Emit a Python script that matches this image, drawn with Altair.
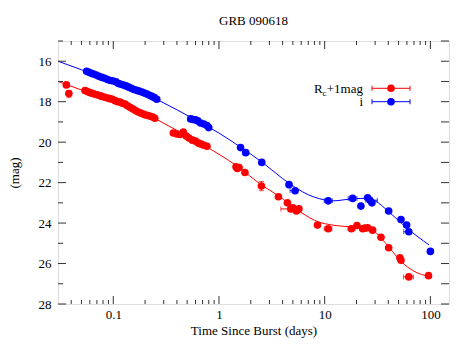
import altair as alt
import pandas as pd

FONT = "Liberation Serif"
RED = "#ff0000"
BLUE = "#0000ff"

# ---------------- data ----------------
# i band points
i_t = [0.056, 0.059, 0.062, 0.065, 0.069, 0.073, 0.078, 0.083, 0.088, 0.094, 0.100, 0.106,
       0.112, 0.118, 0.125, 0.132, 0.140, 0.148, 0.157, 0.166, 0.176, 0.186, 0.197, 0.208,
       0.220, 0.232, 0.245, 0.258,
       0.54, 0.57, 0.60, 0.63, 0.67, 0.72, 0.77, 0.80,
       1.6, 1.79, 2.54, 4.6, 5.25, 10.8, 18.4, 22.0, 25.5, 26.8, 28.0, 40.3, 52.7, 59.6, 62.5, 100.0]
i_mag = [16.50, 16.55, 16.60, 16.63, 16.68, 16.74, 16.80, 16.84, 16.90, 16.95, 16.98, 17.02,
         17.10, 17.14, 17.18, 17.22, 17.28, 17.34, 17.40, 17.44, 17.48, 17.52, 17.57, 17.62,
         17.68, 17.74, 17.80, 17.88,
         18.85, 18.88, 18.90, 18.95, 19.05, 19.10, 19.18, 19.28,
         20.27, 20.52, 21.0, 22.1, 22.4, 22.9, 22.78, 23.16, 22.75, 22.87, 23.0, 23.4, 23.82, 24.1, 24.43, 25.4]

# Rc+1 points
r_t = [0.036, 0.038,
       0.054, 0.057, 0.060, 0.063, 0.066, 0.070, 0.074, 0.078, 0.083, 0.088, 0.093, 0.098,
       0.104, 0.110, 0.116, 0.122, 0.129, 0.136, 0.144, 0.152, 0.161, 0.170, 0.180, 0.190,
       0.200, 0.212, 0.224, 0.236, 0.247,
       0.37, 0.40, 0.43, 0.46, 0.49, 0.52, 0.56, 0.60, 0.64, 0.68, 0.72, 0.77,
       1.45, 1.49, 1.55, 1.76, 2.52, 3.65, 4.44, 4.78, 5.0, 5.4, 5.7, 8.55, 10.8,
       17.9, 20.2, 22.9, 24.0, 25.5, 28.4, 34.1, 40.3, 51.5, 52.7, 62.5, 96.0]
r_mag = [17.17, 17.6,
         17.45, 17.50, 17.55, 17.58, 17.62, 17.66, 17.70, 17.74, 17.78, 17.82, 17.85, 17.88,
         17.95, 18.00, 18.02, 18.08, 18.12, 18.20, 18.28, 18.35, 18.42, 18.50, 18.55, 18.60,
         18.65, 18.68, 18.72, 18.76, 18.82,
         19.55, 19.60, 19.62, 19.50, 19.70, 19.80, 19.90, 19.95, 20.05, 20.10, 20.15, 20.20,
         21.22, 21.30, 21.25, 21.50, 22.17, 22.70, 23.00, 23.30, 23.25, 23.40, 23.30, 24.10, 24.28,
         24.28, 24.12, 24.28, 24.25, 24.23, 24.35, 24.70, 25.22, 25.72, 25.84, 26.66, 26.60]

# horizontal (time) error bars: t, mag, low, high
i_xe_t = [5.25, 10.8, 18.4, 26.8, 62.5]
i_xe_mag = [22.4, 22.9, 22.78, 22.87, 24.43]
i_xe_lo = [4.7, 9.9, 16.7, 24.5, 56.0]
i_xe_hi = [5.5, 11.8, 20.2, 31.5, 66.0]

r_xe_t = [4.78, 10.8, 17.9, 24.0, 62.5]
r_xe_mag = [23.3, 24.28, 24.28, 24.25, 26.66]
r_xe_lo = [3.85, 9.9, 16.7, 21.5, 55.6]
r_xe_hi = [5.0, 11.7, 19.4, 26.4, 69.0]

# vertical (magnitude) error bars
r_ye_t = [0.038, 2.52]
r_ye_lo = [17.45, 21.95]
r_ye_hi = [17.78, 22.40]

# model curves
i_curve_t = [0.03, 0.05, 0.1, 0.2, 0.4, 0.7, 1.0, 1.6, 2.5, 4.0, 5.5, 7.0, 9.0, 12.0,
             17.0, 22.0, 26.0, 30.0, 40.0, 60.0, 97.0]
i_curve_mag = [16.0, 16.42, 17.0, 17.62, 18.4, 19.1, 19.55, 20.25, 20.95, 21.8, 22.3, 22.6,
               22.8, 22.9, 22.82, 22.78, 22.78, 22.9, 23.42, 24.25, 25.08]
r_curve_t = [0.03, 0.05, 0.1, 0.2, 0.4, 0.7, 1.0, 1.5, 2.5, 3.65, 5.7, 8.9, 11.0, 17.0,
             21.0, 25.0, 28.0, 34.0, 41.0, 53.0, 70.0, 97.0]
r_curve_mag = [17.0, 17.42, 18.0, 18.6, 19.42, 20.12, 20.6, 21.2, 22.1, 22.65, 23.4, 23.96,
               24.07, 24.18, 24.2, 24.22, 24.3, 24.73, 25.22, 25.9, 26.38, 26.64]

# axis ticks
x_major = [0.1, 1, 10, 100]
x_minor = [0.04, 0.05, 0.06, 0.07, 0.08, 0.09,
           0.2, 0.3, 0.4, 0.5, 0.6, 0.7, 0.8, 0.9,
           2, 3, 4, 5, 6, 7, 8, 9,
           20, 30, 40, 50, 60, 70, 80, 90]
y_major = [16, 18, 20, 22, 24, 26, 28]
y_minor = [15, 17, 19, 21, 23, 25, 27]

# ---------------- chart ----------------
W, H = 391, 263
xs = alt.Scale(type="log", domain=[0.03, 150], nice=False)
ys = alt.Scale(domain=[15, 28], reverse=True, nice=False, zero=False)

xaxis = alt.Axis(values=x_major, format="~g", ticks=False, domain=False, grid=False,
                 labelFont=FONT, labelFontSize=13, labelColor="black", labelPadding=4,
                 titleFont=FONT, titleFontSize=13, titleFontWeight="normal", titleColor="black",
                 titlePadding=3, labelFlush=False)
yaxis = alt.Axis(values=y_major, ticks=False, domain=False, grid=False,
                 labelFont=FONT, labelFontSize=13, labelColor="black", labelPadding=7,
                 titleFont=FONT, titleFontSize=13, titleFontWeight="normal", titleColor="black",
                 titlePadding=17, labelFlush=False)

X = lambda f="t": alt.X(f, type="quantitative", scale=xs, axis=xaxis, title="Time Since Burst (days)")
Y = lambda f="mag": alt.Y(f, type="quantitative", scale=ys, axis=yaxis, title="(mag)")

i_pts = pd.DataFrame({"t": i_t, "mag": i_mag})
r_pts = pd.DataFrame({"t": r_t, "mag": r_mag})
i_xe = pd.DataFrame({"t": i_xe_lo, "t2": i_xe_hi, "mag": i_xe_mag})
r_xe = pd.DataFrame({"t": r_xe_lo, "t2": r_xe_hi, "mag": r_xe_mag})
r_ye = pd.DataFrame({"t": r_ye_t, "mag": r_ye_lo, "mag2": r_ye_hi})
i_cur = pd.DataFrame({"t": i_curve_t, "mag": i_curve_mag})
r_cur = pd.DataFrame({"t": r_curve_t, "mag": r_curve_mag})

layers = []

# curves
for df, col in [(r_cur, RED), (i_cur, BLUE)]:
    layers.append(alt.Chart(df).mark_line(color=col, strokeWidth=1, interpolate="monotone")
                  .encode(x=X(), y=Y()))

# horizontal error bars with caps
for df, col in [(r_xe, RED), (i_xe, BLUE)]:
    layers.append(alt.Chart(df).mark_rule(color=col, strokeWidth=1)
                  .encode(x=X(), x2="t2", y=Y()))
    for f in ["t", "t2"]:
        layers.append(alt.Chart(df).mark_tick(color=col, orient="vertical", size=5, thickness=1)
                      .encode(x=X(f), y=Y()))

# vertical error bars with caps
layers.append(alt.Chart(r_ye).mark_rule(color=RED, strokeWidth=1)
              .encode(x=X(), y=Y(), y2="mag2"))
for f in ["mag", "mag2"]:
    layers.append(alt.Chart(r_ye).mark_tick(color=RED, orient="horizontal", size=5, thickness=1)
                  .encode(x=X(), y=Y(f)))

# points
for df, col in [(r_pts, RED), (i_pts, BLUE)]:
    layers.append(alt.Chart(df).mark_circle(color=col, size=58, opacity=1)
                  .encode(x=X(), y=Y()))

# inward ticks (mirrored on all four sides)
xmaj = pd.DataFrame({"t": x_major})
xmin = pd.DataFrame({"t": x_minor})
ymaj = pd.DataFrame({"mag": y_major})
ymin = pd.DataFrame({"mag": y_minor})
TC = "#333333"
layers += [
    alt.Chart(xmaj).mark_rule(color=TC).encode(x=X(), y=alt.value(H), y2=alt.value(H - 8)),
    alt.Chart(xmin).mark_rule(color=TC).encode(x=X(), y=alt.value(H), y2=alt.value(H - 4)),
    alt.Chart(xmaj).mark_rule(color=TC).encode(x=X(), y=alt.value(0), y2=alt.value(8)),
    alt.Chart(xmin).mark_rule(color=TC).encode(x=X(), y=alt.value(0), y2=alt.value(4)),
    alt.Chart(ymaj).mark_rule(color=TC).encode(y=Y(), x=alt.value(0), x2=alt.value(8)),
    alt.Chart(ymin).mark_rule(color=TC).encode(y=Y(), x=alt.value(0), x2=alt.value(5)),
    alt.Chart(ymaj).mark_rule(color=TC).encode(y=Y(), x=alt.value(W), x2=alt.value(W - 8)),
    alt.Chart(ymin).mark_rule(color=TC).encode(y=Y(), x=alt.value(W), x2=alt.value(W - 8)),
]

# legend (drawn by hand to allow the subscript)
one = pd.DataFrame({"k": [0]})
def txt(s, x, y, size=13, align="left"):
    return alt.Chart(one).mark_text(font=FONT, fontSize=size, align=align, baseline="alphabetic",
                                    color="black").encode(x=alt.value(x), y=alt.value(y), text=alt.value(s))

def leg_entry(col, y):
    out = [alt.Chart(one).mark_rule(color=col, strokeWidth=1)
           .encode(x=alt.value(314), x2=alt.value(352), y=alt.value(y))]
    for xx in (314, 352):
        out.append(alt.Chart(one).mark_rule(color=col, strokeWidth=1)
                   .encode(x=alt.value(xx), y=alt.value(y - 2.5), y2=alt.value(y + 2.5)))
    out.append(alt.Chart(one).mark_circle(color=col, size=58, opacity=1)
               .encode(x=alt.value(333), y=alt.value(y)))
    return out

layers += [txt("R", 256, 51.5), txt("c", 264.5, 55, size=9), txt("+1mag", 305, 51.5, align="right"),
           txt("i", 305, 65, align="right")]
layers += leg_entry(RED, 47.3)
layers += leg_entry(BLUE, 60.7)

chart = alt.layer(*layers).properties(
    width=W, height=H,
    title=alt.TitleParams("GRB 090618", font=FONT, fontSize=13, fontWeight="normal",
                          color="black", offset=13, anchor="middle"),
    autosize=alt.AutoSizeParams(type="none"),
    padding={"left": 50, "top": 33, "right": 14, "bottom": 34},
).configure_view(stroke="#333333", strokeWidth=1).configure(background="white")

chart.save("out.html", embed_options={"renderer": "svg", "actions": False})
